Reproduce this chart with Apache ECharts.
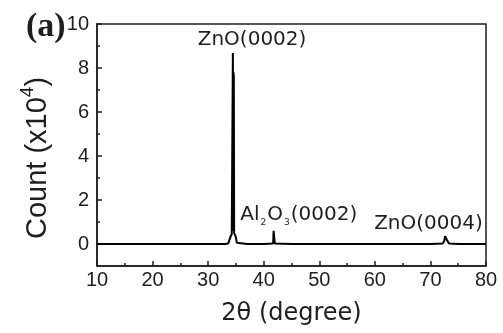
<!DOCTYPE html>
<html>
<head>
<meta charset="utf-8">
<script src="https://cdn.jsdelivr.net/npm/echarts@6/dist/echarts.min.js"></script>
<style>
  html, body { margin: 0; padding: 0; background: #fff; }
  #chart { width: 503px; height: 333px; }
</style>
</head>
<body>
<div id="chart"></div>
<script>
// XRD scan: 2θ (degree) vs count (x10^4)
const twoTheta = [10, 15, 20, 25, 30, 33.0, 33.6, 33.85, 34.05, 34.25, 34.38, 34.45, 34.52, 34.56, 34.62, 34.68, 34.8, 35.0, 35.15, 35.4, 37, 40, 41.7, 41.78, 41.92, 42.0, 45, 50, 55, 60, 65, 70, 72.2, 72.5, 72.65, 72.8, 72.95, 73.1, 73.4, 75, 80];
const counts   = [0.0, 0.0, 0.0, 0.0, 0.0, 0.0, 0.02, 0.1, 0.35, 0.45, 0.5, 8.68, 0.6, 7.8, 7.6, 0.5, 0.45, 0.3, 0.06, 0.01, 0.0, 0.0, 0.02, 0.6, 0.6, 0.02, 0.0, 0.0, 0.0, 0.0, 0.0, 0.0, 0.02, 0.15, 0.35, 0.37, 0.3, 0.12, 0.02, 0.0, 0.0];

// peak annotations: [2θ, count] where each label's centre sits
const peakNames  = ['ZnO(0002)', '{a|Al}{s|2}{a|O}{s|3}{a|(0002)}', 'ZnO(0004)'];
const peakLabelX = [37.9, 46.3, 69.65];
const peakLabelY = [9.27, 1.32, 0.91];

const yMajorTicks = [0, 2, 4, 6, 8, 10];
const yMinorTicks = [1, 3, 5, 7, 9];

const ink = '#1e1e1e';
const sans = '"Liberation Sans", Arial, sans-serif';
const wide = '"DejaVu Sans", sans-serif';

const chart = echarts.init(document.getElementById('chart'), null, { renderer: 'canvas' });

const pattern = twoTheta.map((x, i) => [x, counts[i]]);

const annotations = peakNames.map((name, i) => ({
  coord: [peakLabelX[i], peakLabelY[i]],
  symbol: 'circle',
  symbolSize: 0,
  label: {
    show: true,
    position: 'inside',
    formatter: name,
    fontFamily: wide,
    fontSize: 20,
    color: ink,
    rich: {
      a: { fontFamily: wide, fontSize: 20, color: ink, lineHeight: 24, verticalAlign: 'middle' },
      s: { fontFamily: wide, fontSize: 9, color: ink, lineHeight: 24, verticalAlign: 'bottom', padding: [0, 1, 0, 1] }
    }
  }
}));

chart.setOption({
  animation: false,
  backgroundColor: '#fff',
  title: {
    text: '(a)',
    left: 21,
    top: 5,
    textStyle: { fontFamily: '"Liberation Serif", "Times New Roman", serif', fontWeight: 'bold', fontSize: 34, color: ink }
  },
  grid: {
    left: 97, right: 17, top: 24, bottom: 67,
    show: true, borderColor: ink, borderWidth: 1.5, backgroundColor: 'transparent'
  },
  xAxis: {
    type: 'value',
    min: 10, max: 80, interval: 10,
    name: '2θ (degree)',
    nameLocation: 'middle',
    nameGap: 36,
    nameTextStyle: { fontFamily: wide, fontSize: 24, color: ink },
    axisLine: { onZero: false, lineStyle: { color: ink, width: 1.5 } },
    axisTick: { inside: true, length: 5, lineStyle: { color: ink, width: 1.5 } },
    minorTick: { show: true, splitNumber: 2, length: 3, lineStyle: { color: ink, width: 1.5 } },
    axisLabel: { fontFamily: sans, fontSize: 20, color: ink, margin: 4 },
    splitLine: { show: false }
  },
  yAxis: [
    {
      type: 'value',
      min: -1, max: 10,
      axisLine: { show: true, onZero: false, lineStyle: { color: ink, width: 1.5 } },
      axisTick: { show: true, inside: true, length: 5, customValues: yMajorTicks, lineStyle: { color: ink, width: 1.5 } },
      axisLabel: { customValues: yMajorTicks, fontFamily: sans, fontSize: 20, color: ink, margin: 8 },
      splitLine: { show: false }
    },
    {
      type: 'value',
      position: 'left',
      min: -1, max: 10,
      axisLine: { show: false, onZero: false },
      axisTick: { show: true, inside: true, length: 3, customValues: yMinorTicks, lineStyle: { color: ink, width: 1.5 } },
      axisLabel: { show: false },
      splitLine: { show: false }
    }
  ],
  graphic: [{
    type: 'text',
    x: 35,
    y: 158,
    rotation: Math.PI / 2,
    style: {
      text: '{t|Count (x10}{p|4}{t|)}',
      align: 'center',
      verticalAlign: 'middle',
      fill: ink,
      rich: {
        t: { fontFamily: sans, fontSize: 29, fill: ink, lineHeight: 34, verticalAlign: 'bottom' },
        p: { fontFamily: sans, fontSize: 19, fill: ink, lineHeight: 34, verticalAlign: 'top' }
      }
    }
  }],
  series: [{
    type: 'line',
    data: pattern,
    showSymbol: false,
    lineStyle: { color: '#000', width: 2 },
    markPoint: { silent: true, data: annotations }
  }]
});
</script>
</body>
</html>
